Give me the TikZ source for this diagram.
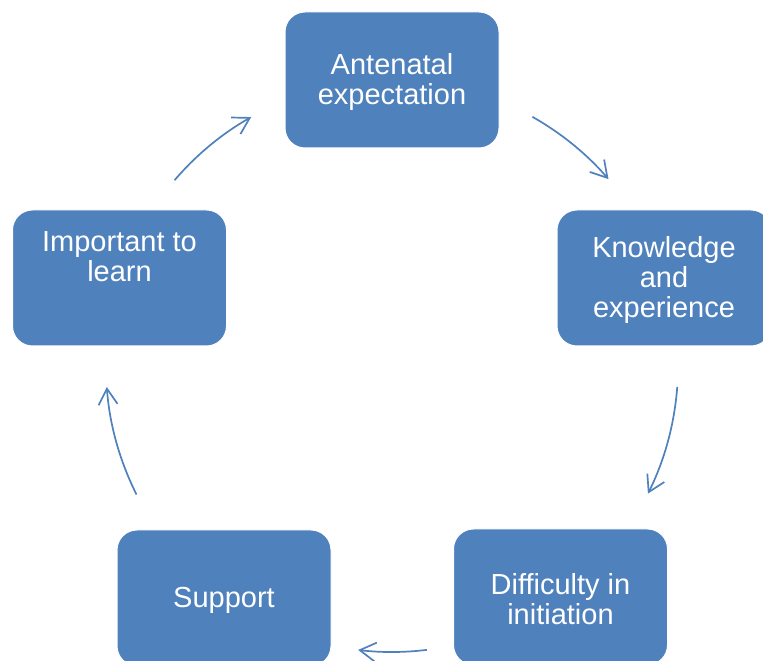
\documentclass[tikz,border=0pt]{standalone}
\usepackage{fontspec}
\setmainfont{Liberation Sans}
\usetikzlibrary{arrows.meta}
\definecolor{boxblue}{HTML}{4F81BD}
\begin{document}
\begin{tikzpicture}[x=1pt,y=1pt,
  boxtext/.style={text=white, align=center, font=\fontsize{29}{30}\selectfont},
  box/.style={draw=white, line width=1pt, fill=boxblue, rounded corners=20pt,
    minimum width=214pt, minimum height=136pt, inner sep=0pt},
  cyc/.style={draw=boxblue, line width=1.7pt,
    -{Straight Barb[length=16pt,width=19pt]}}]
\useasboundingbox (0,0) rectangle (763,661);
\clip (0,0) rectangle (763,661);
\coordinate (c) at (392,295);
\node[box, label={[boxtext, yshift=-2.5pt]center:Antenatal\\expectation}] (ant) at (392,581) {};
\node[box, label={[boxtext, yshift=-2pt]center:Knowledge\\and\\experience}] (know) at (664,383) {};
\node[box, label={[boxtext, yshift=-2.5pt]center:Difficulty in\\initiation}] (diff) at (560.5,64) {};
\node[box, label={[boxtext, yshift=-2.5pt]center:Support}] (supp) at (224,63) {};
\node[box, label={[boxtext, yshift=21pt]center:Important to\\learn}] (imp) at (119.5,383) {};
\draw[cyc] ([shift={(60.6:286)}]c) arc[start angle=60.6, end angle=40.8, radius=286];
\draw[cyc] ([shift={(-4.2:286)}]c) arc[start angle=-4.2, end angle=-26.5, radius=286];
\draw[cyc] ([shift={(-83:286)}]c) arc[start angle=-83, end angle=-96.8, radius=286];
\draw[cyc] ([shift={(206.7:286)}]c) arc[start angle=206.7, end angle=184.2, radius=286];
\draw[cyc] ([shift={(139.5:286)}]c) arc[start angle=139.5, end angle=119.5, radius=286];
\end{tikzpicture}
\end{document}
